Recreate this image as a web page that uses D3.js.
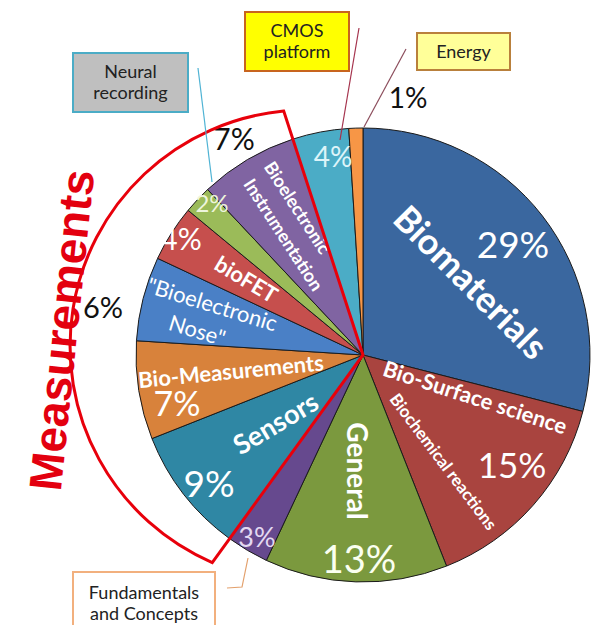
<!DOCTYPE html>
<html>
<head>
<meta charset="utf-8">
<script src="https://cdn.jsdelivr.net/npm/d3@7"></script>
<style>
  body { margin: 0; background: #fff; }
  text { font-family: Lato, "Open Sans", sans-serif; }
</style>
</head>
<body>
<div id="chart"></div>
<script>
// slices, clockwise from 12 o'clock
var categories = ["Biomaterials", "Bio-Surface science", "General", "Fundamentals and Concepts",
    "Sensors", "Bio-Measurements", "\"Bioelectronic Nose\"", "bioFET", "Neural recording",
    "Bioelectronic Instrumentation", "CMOS platform", "Energy"];
var shares = [29, 15, 13, 3, 9, 7, 6, 4, 2, 7, 4, 1];
var sliceColors = ["#3a679f", "#a9443f", "#7b993e", "#66498e", "#2f87a4", "#d8823b",
    "#4a80c6", "#c64f4d", "#9bbb59", "#8064a2", "#4bacc6", "#f79646"];

var width = 592, height = 625;
var cx = 363, cy = 355, radius = 227;

var svg = d3.select("#chart")
    .append("svg")
    .attr("width", width)
    .attr("height", height);

var pie = d3.pie().sort(null).value(function (d) { return d; });
var arcs = pie(shares);
var arc = d3.arc().innerRadius(0).outerRadius(radius);

var g = svg.append("g")
    .attr("transform", "translate(" + cx + "," + cy + ")");

g.selectAll("path.slice")
    .data(arcs)
    .enter()
    .append("path")
    .attr("class", "slice")
    .attr("d", arc)
    .attr("fill", function (d, i) { return sliceColors[i]; })
    .attr("stroke", "#1b1b1b")
    .attr("stroke-width", 1);

// point on a ray from the centre, angle in d3.pie terms
function polar(a, r) { return [r * Math.sin(a), -r * Math.cos(a)]; }

// percent labels: offset from centre, font size, colour
var pctLayout = [
    [150, -110, 37, "#fff"], [149, 110, 35, "#fff"], [-4, 204, 38, "#fafff0"],
    [-106, 182, 27, "#e3d9f2"], [-154, 129, 37, "#fff"], [-186, 49, 34, "#fff"],
    [-260, -47, 29, "#111"], [-182, -116, 30, "#fff"], [-151, -152, 24, "#eef5dc"],
    [-129, -216, 30, "#111"], [-30, -198, 28, "#ddf4f9"], [45, -257, 28, "#111"]
];
g.selectAll("text.pct")
    .data(shares)
    .enter()
    .append("text")
    .attr("class", "pct")
    .attr("x", function (d, i) { return pctLayout[i][0]; })
    .attr("y", function (d, i) { return pctLayout[i][1]; })
    .attr("dy", "0.36em")
    .attr("text-anchor", "middle")
    .style("font-size", function (d, i) { return pctLayout[i][2] + "px"; })
    .style("fill", function (d, i) { return pctLayout[i][3]; })
    .text(function (d) { return d + "%"; });

// names written inside the slices: text, dx, dy, rotation, size, weight
var nameLayout = [
    ["Biomaterials", 107, -72, 45, 36, "bold"],
    ["Bio-Surface science", 112, 43, 18, 22, "bold"],
    ["Biochemical reactions", 80, 107, 53, 17, "bold"],
    ["General", -7, 116, 90, 28, "bold"],
    ["Sensors", -87, 69, -31, 27, "bold"],
    ["Bio-Measurements", -132, 17, -5.5, 22, "bold"],
    ["\"Bioelectronic", -151, -50, 17, 22, "normal"],
    ["Nose\"", -166, -24, 17, 22, "normal"],
    ["bioFET", -117, -75, 31, 22, "bold"],
    ["Bioelectronic", -66, -147, 57, 18, "bold"],
    ["Instrumentation", -80, -120, 57, 18, "bold"]
];
g.selectAll("text.name")
    .data(nameLayout)
    .enter()
    .append("text")
    .attr("class", "name")
    .attr("transform", function (d) { return "translate(" + d[1] + "," + d[2] + ") rotate(" + d[3] + ")"; })
    .attr("dy", "0.33em")
    .attr("text-anchor", "middle")
    .style("font-size", function (d) { return d[4] + "px"; })
    .style("font-weight", function (d) { return d[5]; })
    .style("fill", "#fff")
    .text(function (d) { return d[0]; });

// red "Measurements" bracket from the start of Sensors to the end of Bioelectronic Instrumentation
var pTop = polar(arcs[9].endAngle, radius * 1.13);
var pBot = polar(arcs[4].startAngle, radius * 1.13);
g.append("path")
    .attr("d", "M0,0L" + pTop[0] + "," + pTop[1] +
        "A236,236 0 0 0 " + pBot[0] + "," + pBot[1] + "Z")
    .attr("fill", "none")
    .attr("stroke", "#e8000b")
    .attr("stroke-width", 3)
    .attr("stroke-linejoin", "miter");

svg.append("text")
    .attr("transform", "translate(61,330) rotate(-84)")
    .attr("dy", "0.36em")
    .attr("text-anchor", "middle")
    .style("font-family", "'Liberation Sans', Arial, sans-serif")
    .style("font-size", "46px")
    .style("font-weight", "bold")
    .style("fill", "#e3000f")
    .text("Measurements");

// callout boxes: lines first, then boxes
var calloutLines = [
    { pts: [[198, 68], [212, 182]], color: "#4fb3d4" },
    { pts: [[359, 28], [340, 140]], color: "#a5334d" },
    { pts: [[406, 49], [364, 127]], color: "#8c4d5c" },
    { pts: [[248, 558], [242, 587], [227, 588]], color: "#e3a06c" }
];
svg.selectAll("path.leader")
    .data(calloutLines)
    .enter()
    .append("path")
    .attr("class", "leader")
    .attr("d", function (d) { return d3.line()(d.pts); })
    .attr("fill", "none")
    .attr("stroke", function (d) { return d.color; })
    .attr("stroke-width", 1.2);

var boxes = [
    { x: 73, y: 53, w: 115, h: 59, fill: "#bfbfbf", stroke: "#4bacc6", lines: ["Neural", "recording"], base: 78 },
    { x: 245, y: 12, w: 104, h: 59, fill: "#ffff00", stroke: "#c8641e", lines: ["CMOS", "platform"], base: 37 },
    { x: 417, y: 33, w: 93, h: 37, fill: "#ffff99", stroke: "#b9803c", lines: ["Energy"], base: 58 },
    { x: 73, y: 572, w: 142, h: 60, fill: "#fff", stroke: "#f2b07e", lines: ["Fundamentals", "and Concepts"], base: 599 }
];
var bx = svg.selectAll("g.box")
    .data(boxes)
    .enter()
    .append("g")
    .attr("class", "box");
bx.append("rect")
    .attr("x", function (d) { return d.x; })
    .attr("y", function (d) { return d.y; })
    .attr("width", function (d) { return d.w; })
    .attr("height", function (d) { return d.h; })
    .attr("fill", function (d) { return d.fill; })
    .attr("stroke", function (d) { return d.stroke; })
    .attr("stroke-width", 2);
bx.append("text")
    .attr("text-anchor", "middle")
    .style("font-size", "18px")
    .style("fill", "#222")
    .selectAll("tspan")
    .data(function (d) { return d.lines.map(function (t, i) { return { t: t, x: d.x + d.w / 2, y: d.base + i * 21 }; }); })
    .enter()
    .append("tspan")
    .attr("x", function (d) { return d.x; })
    .attr("y", function (d) { return d.y; })
    .text(function (d) { return d.t; });
</script>
</body>
</html>
